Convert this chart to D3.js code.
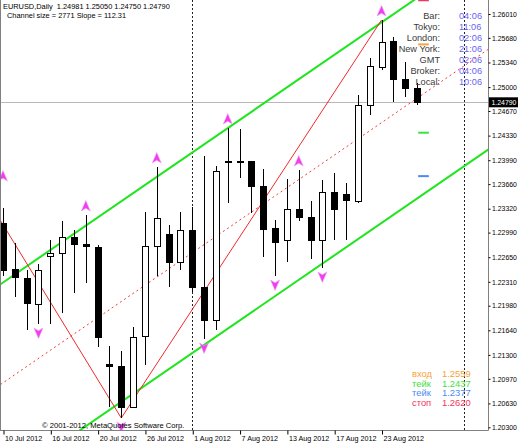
<!DOCTYPE html>
<html><head><meta charset="utf-8">
<script src="https://cdn.jsdelivr.net/npm/d3@7"></script>
<style>
html,body{margin:0;padding:0;background:#fff;overflow:hidden}
svg{display:block;font-family:"Liberation Sans",Arial,sans-serif}
</style></head><body>
<svg id="c" width="518" height="444"></svg>
<script>
// ---------- data ----------
const dates = ["2012-07-10","2012-07-11","2012-07-12","2012-07-13","2012-07-16","2012-07-17","2012-07-18","2012-07-19","2012-07-20",
  "2012-07-23","2012-07-24","2012-07-25","2012-07-26","2012-07-27","2012-07-30","2012-07-31","2012-08-01","2012-08-02","2012-08-03",
  "2012-08-06","2012-08-07","2012-08-08","2012-08-09","2012-08-10","2012-08-13","2012-08-14","2012-08-15","2012-08-16","2012-08-17",
  "2012-08-20","2012-08-21","2012-08-22","2012-08-23","2012-08-24","2012-08-27","2012-08-28"];
const open  = [1.23122,1.22487,1.22363,1.22003,1.22667,1.22708,1.22929,1.22832,1.22791,1.21174,1.21147,1.20580,1.21561,1.22805,1.22970,1.22584,1.23026,1.22238,1.21782,1.23975,1.23982,1.23975,1.23634,1.23053,1.22888,1.23316,1.23205,1.22888,1.23551,1.23523,1.23426,1.24753,1.25278,1.25637,1.25112,1.24981];
const high  = [1.23330,1.22846,1.22473,1.22556,1.22888,1.23150,1.23026,1.23233,1.22819,1.21423,1.21354,1.21685,1.23274,1.23896,1.23095,1.23274,1.23344,1.24048,1.23910,1.24435,1.24421,1.23985,1.23869,1.23164,1.23730,1.23855,1.23426,1.23717,1.23813,1.23675,1.24891,1.25402,1.25927,1.25692,1.25347,1.25050];
const low   = [1.22390,1.22100,1.21644,1.21727,1.21727,1.21879,1.22155,1.22293,1.21409,1.20580,1.20428,1.20705,1.21160,1.22390,1.22238,1.22473,1.22169,1.21520,1.21644,1.23399,1.23744,1.23261,1.22653,1.22390,1.22584,1.23150,1.22625,1.22501,1.22888,1.22888,1.23399,1.24615,1.25236,1.24794,1.24863,1.24750];
const close = [1.22473,1.22376,1.22017,1.22473,1.22708,1.22929,1.22832,1.22805,1.21547,1.21147,1.20580,1.21547,1.22805,1.23192,1.22584,1.23026,1.22238,1.21782,1.23841,1.23982,1.23975,1.23634,1.23040,1.22860,1.23316,1.23205,1.22888,1.23551,1.23316,1.23440,1.24753,1.25292,1.25623,1.25112,1.24988,1.24790];

const priceTicks = [1.26010,1.25680,1.25340,1.25000,1.24670,1.24330,1.23990,1.23660,1.23320,1.22990,1.22650,1.22310,1.21980,1.21640,1.21300,1.20970,1.20630,1.20300];
const dateTickIdx = [0,4,8,12,16,20,24,28,32];
const lastPrice = 1.24790;

// regression channel (price at bar 0, slope per bar, channel width)
const channelStart = 1.22300, channelSlope = 0.0011231, channelSize = 0.02771;
// zigzag pivots [bar index, price]
const zigzag = [[-2,1.23634],[10,1.20428],[32,1.25927]];
// fractals [bar index, price]
const fractalsUp = [[0,1.23647],[7,1.23233],[13,1.23896],[19,1.24435],[25,1.23855],[32,1.25927]];
const fractalsDown = [[3,1.21727],[10,1.20428],[17,1.21520],[23,1.22390],[27,1.22501]];
// vertical separators (bar index)
const separators = [16, 39];

// session panel
const sessionLabels = ["Bar:","Tokyo:","London:","New York:","GMT","Broker:","Local:"];
const sessionTimes  = ["04:06","11:06","02:06","21:06","02:06","04:06","10:06"];

// trade levels
const levelNames  = ["вход","тейк","тейк","стоп"];
const levelPrices = [1.2559,1.2437,1.2377,1.2620];
const levelColors = ["#f5a33c","#3ee03e","#4a8af2","#f3355c"];

const headerText = "EURUSD,Daily  1.24981 1.25050 1.24750 1.24790";
const channelText = "Channel size = 2771 Slope = 112.31";
const copyright = "\u00a9 2001-2012, MetaQuotes Software Corp.";

// ---------- drawing ----------
const svg = d3.select("#c");
const W = 488, H = 430;
const x = d3.scaleLinear().domain([0,35]).range([3,417]);
const y = d3.scaleLinear().domain([1.20300,1.26010]).range([427.3,14]);

svg.append("defs").append("clipPath").attr("id","plot")
  .append("rect").attr("x",0).attr("y",0).attr("width",W).attr("height",H);

const plot = svg.append("g").attr("clip-path","url(#plot)");

// last price line
plot.append("line").attr("x1",0).attr("x2",W)
  .attr("y1",Math.round(y(lastPrice))+0.5).attr("y2",Math.round(y(lastPrice))+0.5)
  .attr("stroke","#b8b8b8").attr("stroke-width",1);

// separators
plot.selectAll("line.sep").data(separators).join("line").attr("class","sep")
  .attr("x1",d=>Math.round(x(d))+0.5).attr("x2",d=>Math.round(x(d))+0.5)
  .attr("y1",0).attr("y2",H).attr("stroke","#222").attr("stroke-width",1)
  .attr("stroke-dasharray","2,2");

// channel
const up = i => channelStart + channelSlope*i;
const chanLine = d3.line().x(d=>x(d[0])).y(d=>y(d[1]));
const iA = -3, iB = 42;
plot.append("path").attr("d",chanLine([[iA,up(iA)],[iB,up(iB)]]))
  .attr("stroke","#1fe51f").attr("stroke-width",2).attr("fill","none");
plot.append("path").attr("d",chanLine([[iA,up(iA)-channelSize],[iB,up(iB)-channelSize]]))
  .attr("stroke","#1fe51f").attr("stroke-width",2).attr("fill","none");
plot.append("path").attr("d",chanLine([[iA,up(iA)-channelSize/2],[iB,up(iB)-channelSize/2]]))
  .attr("stroke","#f23c3c").attr("stroke-width",1).attr("fill","none").attr("stroke-dasharray","2,3");

// zigzag
plot.append("path").attr("d",chanLine(zigzag))
  .attr("stroke","#f02a2a").attr("stroke-width",1).attr("fill","none");

// candles
const bars = d3.range(dates.length).map(i=>({i,o:open[i],h:high[i],l:low[i],c:close[i]}));
const bw = 7;
const cg = plot.append("g");
bars.forEach(b=>{
  const cx = Math.round(x(b.i));
  cg.append("line").attr("x1",cx+0.5).attr("x2",cx+0.5)
    .attr("y1",Math.round(y(b.h))).attr("y2",Math.round(y(b.l)))
    .attr("stroke","#000").attr("stroke-width",1);
  const top = Math.round(y(Math.max(b.o,b.c))), bot = Math.round(y(Math.min(b.o,b.c)));
  const hgt = Math.max(1,bot-top);
  cg.append("rect").attr("x",cx-3+0.5).attr("y",top+0.5)
    .attr("width",bw-1).attr("height",hgt)
    .attr("fill", b.c < b.o ? "#000" : "#fff").attr("stroke","#000").attr("stroke-width",1);
});

// trade level markers
plot.selectAll("line.lvl").data(levelPrices).join("line").attr("class","lvl")
  .attr("x1",x(35.1)).attr("x2",x(36.0))
  .attr("y1",d=>y(d)).attr("y2",d=>y(d))
  .attr("stroke",(d,i)=>levelColors[i]).attr("stroke-width",2);

// fractals
const upArrow = "M0,-5.5L4.5,5L0,2.2L-4.5,5Z";
const dnArrow = "M0,5.5L4.5,-5L0,-2.2L-4.5,-5Z";
plot.selectAll("path.fu").data(fractalsUp).join("path").attr("class","fu")
  .attr("d",upArrow).attr("transform",d=>`translate(${x(d[0])},${y(d[1])-9})`)
  .attr("fill","#ee3fee").attr("stroke","#f7a0f7").attr("stroke-width",0.6);
plot.selectAll("path.fd").data(fractalsDown).join("path").attr("class","fd")
  .attr("d",dnArrow).attr("transform",d=>`translate(${x(d[0])},${y(d[1])+9})`)
  .attr("fill","#ee3fee").attr("stroke","#f7a0f7").attr("stroke-width",0.6);

// frame
svg.append("line").attr("x1",0.5).attr("x2",0.5).attr("y1",0).attr("y2",H+0.5).attr("stroke","#808080");
svg.append("line").attr("x1",0).attr("x2",W+0.5).attr("y1",H+0.5).attr("y2",H+0.5).attr("stroke","#808080");
svg.append("line").attr("x1",W+0.5).attr("x2",W+0.5).attr("y1",0).attr("y2",H+0.5).attr("stroke","#808080");

// right axis
const ra = svg.append("g").attr("transform",`translate(${W+0.5},0)`)
  .call(d3.axisRight(y).tickValues(priceTicks).tickSize(2).tickPadding(1.5).tickFormat(d3.format(".5f")));
ra.select(".domain").remove();
ra.selectAll("line").attr("stroke","#000");
ra.selectAll("text").attr("font-size","6.9px").attr("fill","#000").attr("font-family","Liberation Sans, Arial, sans-serif");

// last price label
svg.append("rect").attr("x",W+1).attr("y",y(lastPrice)-5).attr("width",29).attr("height",10).attr("fill","#000");
svg.append("text").attr("x",W+3.5).attr("y",y(lastPrice)+2.6).text(d3.format(".5f")(lastPrice))
  .attr("fill","#fff").attr("font-size","6.9px");

// bottom axis
const parse = d3.timeParse("%Y-%m-%d"), fmt = d3.timeFormat("%-d %b %Y");
const ba = svg.append("g").attr("transform",`translate(0,${H+0.5})`)
  .call(d3.axisBottom(x).tickValues(dateTickIdx).tickSize(4).tickFormat(i=>fmt(parse(dates[i]))));
ba.select(".domain").remove();
ba.selectAll(".tick line").attr("stroke","#000").attr("transform","translate(0.5,0)");
ba.selectAll("text").attr("text-anchor","start").attr("x",1.5).attr("y",5.5)
  .attr("font-size","7.2px").attr("fill","#000").attr("font-family","Liberation Sans, Arial, sans-serif");

// header
svg.append("text").attr("x",3).attr("y",9).attr("font-size","7.4px").attr("fill","#000")
  .attr("xml:space","preserve").style("white-space","pre").text(headerText);
svg.append("text").attr("x",7).attr("y",17.6).attr("font-size","7.4px").attr("fill","#000").text(channelText);

// copyright
svg.append("text").attr("x",42).attr("y",428).attr("font-size","7.6px").attr("fill","#000").text(copyright);

// session panel
const sp = svg.append("g");
sessionLabels.forEach((t,k)=>{
  sp.append("text").attr("x",440).attr("y",19.3+k*11).attr("text-anchor","end")
    .attr("font-size","9.2px").attr("fill","#3a3a3a").text(t);
  sp.append("text").attr("x",459).attr("y",19.3+k*11)
    .attr("font-size","9.2px").attr("fill","#6a62f2").text(sessionTimes[k]);
});

// trade levels text
levelNames.forEach((t,k)=>{
  const yy = 377 + k*9.5;
  svg.append("text").attr("x",412).attr("y",yy).attr("font-size","9.4px").attr("fill",levelColors[k]).text(t);
  svg.append("text").attr("x",442).attr("y",yy).attr("font-size","9.4px").attr("fill",levelColors[k]).text(d3.format(".4f")(levelPrices[k]));
});
</script>
</body></html>
